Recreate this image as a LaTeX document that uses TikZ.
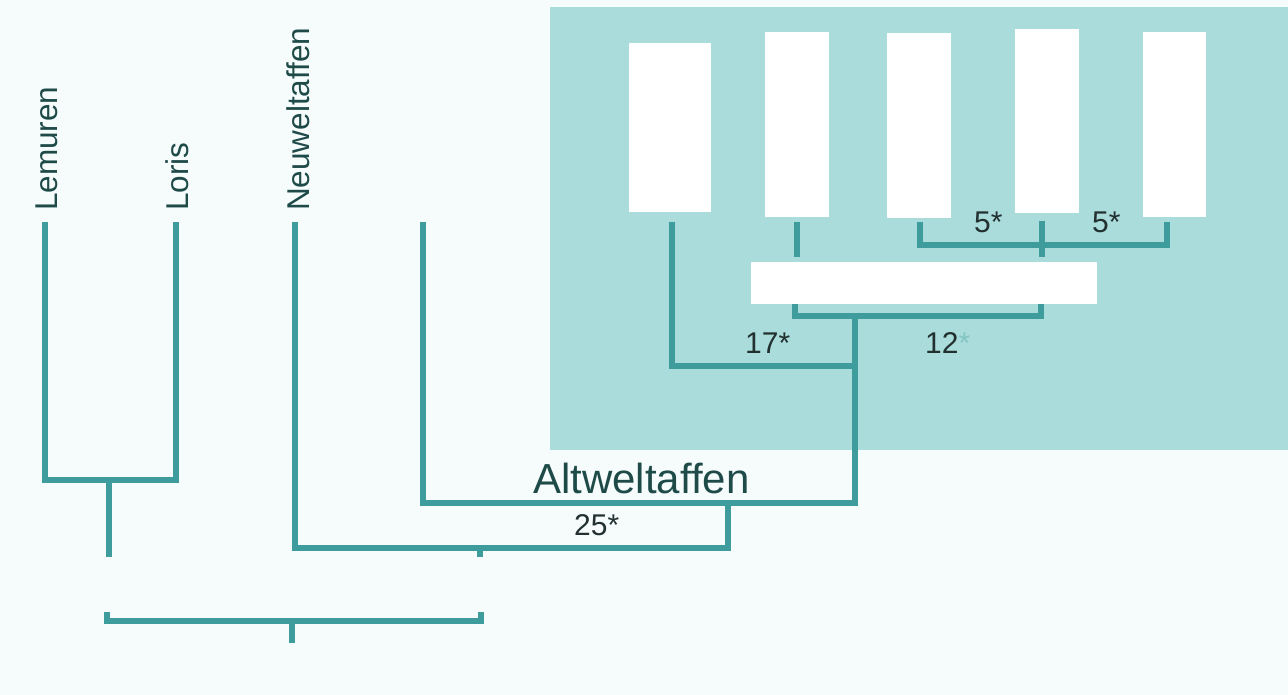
\documentclass[tikz,border=0pt]{standalone}
\usepackage{fontspec}
\setmainfont{Liberation Sans}
\definecolor{pagebg}{HTML}{F6FBFC}
\definecolor{tealbg}{HTML}{A9DCDA}
\definecolor{linec}{HTML}{3E9C9C}
\definecolor{txt}{HTML}{1E4A48}
\definecolor{numc}{HTML}{22302F}
\begin{document}
\begin{tikzpicture}[x=1pt,y=-1pt,
  tline/.style={draw=linec,line width=6.5pt,line join=miter,line cap=butt},
  wbox/.style={fill=white,draw=none,inner sep=0pt},
  taxon/.style={rotate=90,anchor=base west,inner sep=0pt,text=txt,font=\fontsize{31.5}{36}\selectfont},
  numlab/.style={anchor=base west,inner sep=0pt,text=numc,font=\fontsize{30}{34}\selectfont}]
\fill[pagebg] (0,0) rectangle (1288,695);
\useasboundingbox (0,0) rectangle (1288,695);
\fill[tealbg] (550,7) rectangle (1288,450);

% white boxes
\node[wbox,minimum width=82pt,minimum height=169pt] (b1) at (670,127.5) {};
\node[wbox,minimum width=64pt,minimum height=185pt] (b2) at (797,124.5) {};
\node[wbox,minimum width=64pt,minimum height=185pt] (b3) at (919,125.5) {};
\node[wbox,minimum width=64pt,minimum height=184pt] (b4) at (1047,121) {};
\node[wbox,minimum width=63pt,minimum height=185pt] (b5) at (1174.5,124.5) {};
\node[wbox,minimum width=346pt,minimum height=42pt] (wide) at (924,283) {};

% taxon labels
\node[taxon] (lem) at (57,211) {Lemuren};
\node[taxon] (lor) at (188,211) {Loris};
\node[taxon] (neu) at (309,211) {Neuweltaffen};
\node[anchor=base west,inner sep=0pt,text=txt,font=\fontsize{42}{48}\selectfont] (alt) at (533,493) {Altweltaffen};

% number labels
\node[numlab] (n25) at (574,535) {25*};
\node[numlab] (n17) at (745,353) {17*};
\node[numlab] (n12) at (925,353) {12\textcolor{linec!35!tealbg}{*}};
\node[numlab] (n5a) at (974,233) {5*};
\node[numlab] (n5b) at (1092,233) {5*};

% coordinates
\coordinate (lemT) at (45,222);
\coordinate (lorT) at (176,222);
\coordinate (neuT) at (295,222);
\coordinate (altT) at (423,222);
\coordinate (j1) at (109,480);
\coordinate (j1b) at (109,557);
\coordinate (j2) at (480,548);
\coordinate (j2b) at (480,557);
\coordinate (j3) at (728,503);
\coordinate (j4) at (855,503);
\coordinate (j5) at (855,366);
\coordinate (j6) at (855,316);
\coordinate (s1) at (672,222);
\coordinate (s2) at (797,222);
\coordinate (s2b) at (797,257);
\coordinate (s3) at (920,222);
\coordinate (s4) at (1042,221);
\coordinate (s4b) at (1042,257);
\coordinate (s5) at (1167,222);
\coordinate (wl) at (795,304);
\coordinate (wr) at (1041,304);
\coordinate (bl) at (107,612);
\coordinate (br) at (481,612);
\coordinate (bs) at (292,621);
\coordinate (bsb) at (292,643);

% left tree
\draw[tline] (lemT) |- (j1) -| (lorT);
\draw[tline] (lemT |- j1) -- (lorT |- j1);
\draw[tline] (j1) -- (j1b);
\draw[tline] (neuT) |- (j2) -| (j3);
\draw[tline] (j2) -- (j2b);
\draw[tline] (altT) |- (j4) -- (j6);
% right tree
\draw[tline] (s1) |- (j5);
\draw[tline] (wl) |- (j6) -| (wr);
\draw[tline] (s2) -- (s2b);
\draw[tline] (s3) |- (s4 |- 0,245) -| (s5);
\draw[tline] (s4) -- (s4b);
% bottom bracket
\draw[tline] (bl) |- (bs) -| (br);
\draw[tline] (bs) -- (bsb);
\end{tikzpicture}
\end{document}
